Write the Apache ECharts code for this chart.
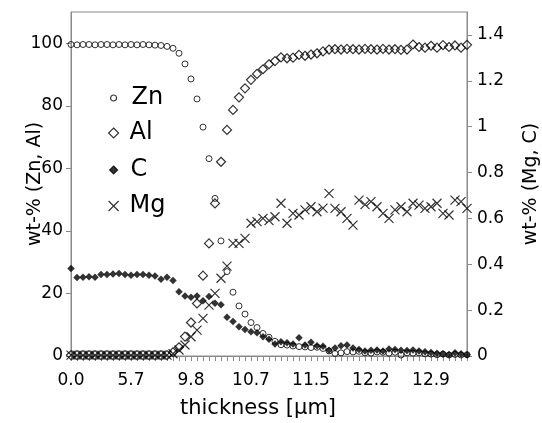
<!DOCTYPE html>
<html>
<head>
<meta charset="utf-8">
<script src="https://cdn.jsdelivr.net/npm/echarts@6/dist/echarts.min.js"></script>
<style>
  html, body { margin: 0; padding: 0; background: #fff; }
  #chart { width: 542px; height: 423px; }
</style>
</head>
<body>
<div id="chart"></div>
<script>
// thickness labels, one every 10 measurement points
var tickLabels = ['0.0', '5.7', '9.8', '10.7', '11.5', '12.2', '12.9'];

// wt-% on left axis
var zn = [99.6, 99.5, 99.6, 99.6, 99.5, 99.6, 99.6, 99.5, 99.6, 99.5, 99.6, 99.5, 99.6, 99.5, 99.4, 99.3,
  99.0, 98.4, 96.8, 93.4, 88.6, 82.2, 73.2, 63.1, 50.4, 36.8, 27.0, 20.4, 16.0, 13.4, 10.7, 9.1, 7.2, 6.0,
  4.7, 3.6, 3.5, 3.2, 3.0, 2.9, 2.7, 2.8, 2.4, 1.6, 0.8, 1.0, 1.4, 1.3, 1.5, 1.0, 0.9, 1.3, 1.2, 0.9,
  1.2, 0.3, 1.0, 0.9, 1.0, 0.7, 0.6, 0.4, 0.6, 0.3, 0.5, 0.3, 0.4];
var al = [0.3, 0.3, 0.3, 0.3, 0.3, 0.3, 0.3, 0.3, 0.3, 0.3, 0.3, 0.3, 0.3, 0.3, 0.3, 0.3, 0.3,
  1.2, 2.8, 6.2, 10.7, 16.8, 25.7, 36.0, 48.8, 62.1, 72.3, 78.7, 82.7, 85.6, 88.3, 90.2, 91.7, 93.3,
  94.3, 95.5, 95.2, 95.4, 96.3, 96.0, 96.4, 96.8, 97.4, 98.0, 98.1, 98.0, 98.2, 98.1, 98.0, 98.2,
  98.1, 98.0, 98.2, 98.0, 98.1, 97.9, 98.0, 99.6, 98.8, 98.6, 99.2, 98.6, 99.4, 98.8, 99.3, 98.6, 99.5];
// wt-% on right axis
var c = [0.382, 0.342, 0.343, 0.346, 0.343, 0.355, 0.355, 0.358, 0.36, 0.355, 0.352, 0.355, 0.355,
  0.352, 0.349, 0.335, 0.343, 0.329, 0.28, 0.262, 0.256, 0.262, 0.241, 0.259, 0.23, 0.223, 0.169,
  0.15, 0.128, 0.116, 0.106, 0.101, 0.084, 0.073, 0.052, 0.062, 0.058, 0.052, 0.08, 0.048, 0.06,
  0.045, 0.042, 0.025, 0.035, 0.045, 0.048, 0.035, 0.028, 0.022, 0.025, 0.026, 0.022, 0.03, 0.028,
  0.025, 0.024, 0.026, 0.022, 0.018, 0.015, 0.012, 0.01, 0.006, 0.014, 0.01, 0.005];
var mg = [0.004, 0.004, 0.004, 0.004, 0.004, 0.004, 0.004, 0.004, 0.004, 0.004, 0.004, 0.004, 0.004,
  0.004, 0.004, 0.004, 0.004, 0.01, 0.026, 0.048, 0.084, 0.113, 0.164, 0.222, 0.273, 0.339, 0.392,
  0.491, 0.491, 0.513, 0.579, 0.586, 0.60, 0.59, 0.607, 0.666, 0.579, 0.622, 0.615, 0.637, 0.651,
  0.629, 0.645, 0.709, 0.644, 0.629, 0.60, 0.571, 0.68, 0.66, 0.673, 0.651, 0.622, 0.60, 0.637,
  0.651, 0.629, 0.666, 0.658, 0.644, 0.651, 0.666, 0.622, 0.615, 0.68, 0.673, 0.644];

var points = [];
for (var i = 0; i < zn.length; i++) points.push(String(i));

var font = 'DejaVu Sans';
var grey = '#8a8a8a';
var cross = 'path://M0,0L10,10M10,0L0,10';

function legendItem(name, top, w, pad, fill) {
  return {
    data: [name], left: 113 - w / 2, top: top, padding: 0,
    itemWidth: w, itemHeight: w, selectedMode: false,
    itemStyle: { color: fill, borderColor: '#000', borderWidth: 1.2 },
    textStyle: { fontFamily: font, fontSize: 24, color: '#000', lineHeight: 24, padding: [0, 0, 0, pad] }
  };
}

var chart = echarts.init(document.getElementById('chart'), null, { renderer: 'canvas' });
chart.setOption({
  animation: false,
  grid: {
    left: 71, right: 75, top: 12, bottom: 67, outerBoundsMode: 'none',
    show: true, borderColor: grey, borderWidth: 1
  },
  legend: [
    legendItem('Zn', 86, 6, 10, 'rgba(255,255,255,0)'),
    legendItem('Al', 121, 10, 6, 'rgba(255,255,255,0)'),
    legendItem('C', 158, 8, 8, '#000'),
    legendItem('Mg', 194, 10, 6, 'rgba(255,255,255,0)')
  ],
  xAxis: {
    type: 'category',
    data: points,
    boundaryGap: false,
    name: 'thickness [µm]',
    nameLocation: 'middle',
    nameGap: 42,
    nameMoveOverlap: false,
    nameTextStyle: { fontFamily: font, fontSize: 21, color: '#000', padding: [0, 22, 0, 0] },
    axisLine: { lineStyle: { color: grey } },
    axisTick: { interval: 0, length: 5, lineStyle: { color: grey } },
    axisLabel: {
      interval: 9, margin: 16, fontFamily: font, fontSize: 17, color: '#000',
      formatter: function (v, idx) { return tickLabels[idx / 10]; }
    },
    splitLine: { show: false }
  },
  yAxis: [
    {
      type: 'value', min: 0, max: 110, interval: 20, position: 'left',
      name: 'wt-% (Zn, Al)', nameLocation: 'middle', nameGap: 26, nameRotate: 90,
      nameMoveOverlap: false,
      nameTextStyle: { fontFamily: font, fontSize: 19, color: '#000' },
      axisLine: { show: true, lineStyle: { color: grey } },
      axisTick: { show: true, length: 5, lineStyle: { color: grey }, customValues: [0, 20, 40, 60, 80, 100] },
      axisLabel: { margin: 8, fontFamily: font, fontSize: 17, color: '#000', showMaxLabel: false },
      splitLine: { show: false }
    },
    {
      type: 'value', min: 0, max: 1.5, interval: 0.2, position: 'right',
      name: 'wt-% (Mg, C)', nameLocation: 'middle', nameGap: 55, nameRotate: 90,
      nameMoveOverlap: false,
      nameTextStyle: { fontFamily: font, fontSize: 19, color: '#000' },
      axisLine: { show: true, lineStyle: { color: grey } },
      axisTick: { show: true, length: 5, lineStyle: { color: grey }, customValues: [0, 0.2, 0.4, 0.6, 0.8, 1, 1.2, 1.4] },
      axisLabel: { margin: 10, fontFamily: font, fontSize: 17, color: '#000', showMaxLabel: false },
      splitLine: { show: false }
    }
  ],
  series: [
    {
      name: 'Zn', type: 'scatter', yAxisIndex: 0, data: zn,
      symbol: 'circle', symbolSize: 6,
      itemStyle: { color: 'rgba(255,255,255,0)', borderColor: '#000', borderWidth: 1 }
    },
    {
      name: 'Al', type: 'scatter', yAxisIndex: 0, data: al,
      symbol: 'diamond', symbolSize: 9,
      itemStyle: { color: 'rgba(255,255,255,0)', borderColor: '#000', borderWidth: 1.2 }
    },
    {
      name: 'C', type: 'scatter', yAxisIndex: 1, data: c,
      symbol: 'diamond', symbolSize: 7.5,
      itemStyle: { color: '#000', borderColor: '#000', borderWidth: 0 }
    },
    {
      name: 'Mg', type: 'scatter', yAxisIndex: 1, data: mg,
      symbol: cross, symbolSize: 9,
      itemStyle: { color: 'rgba(0,0,0,0)', borderColor: '#000', borderWidth: 1.2 }
    }
  ]
});
</script>
</body>
</html>
